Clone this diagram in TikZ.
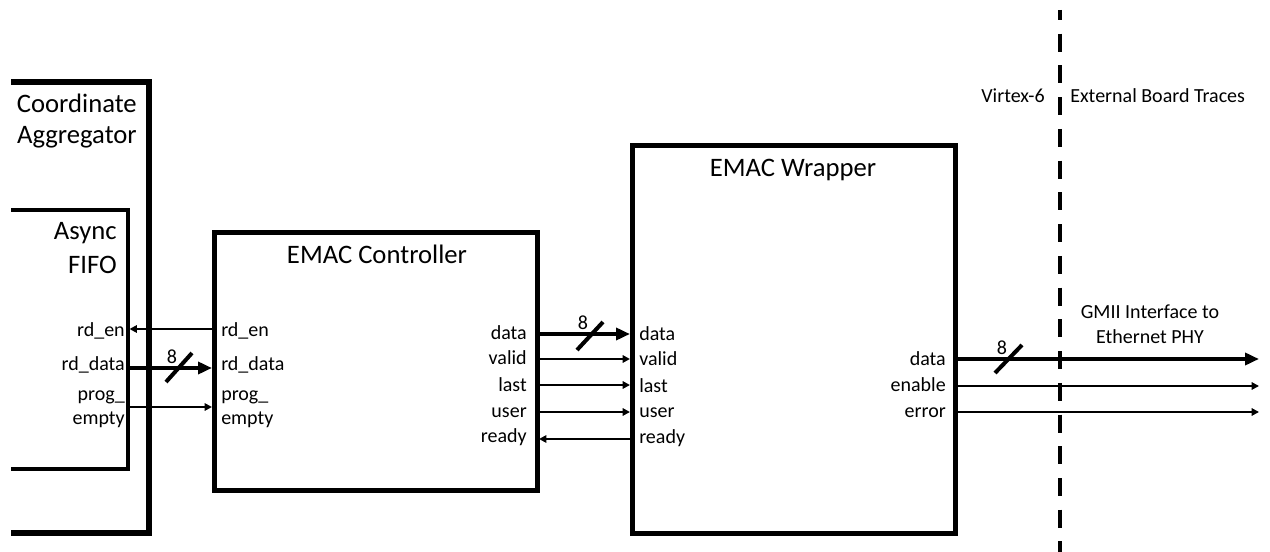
\documentclass[tikz,border=0pt]{standalone}
\usepackage{fontspec}
\setmainfont{Carlito}
\usetikzlibrary{arrows.meta}
\begin{document}
\begin{tikzpicture}[x=0.75pt,y=-0.75pt,
  big/.style={font=\fontsize{20}{24}\selectfont, inner sep=0pt},
  lbl/.style={font=\fontsize{15}{18}\selectfont, inner sep=0pt},
  outerblk/.style={line width=4pt},
  fifoblk/.style={line width=3pt},
  blk/.style={line width=3.75pt},
  sig/.style={line width=1.7pt,-{Triangle[length=5.5pt,width=5.5pt]}},
  bus/.style={line width=3pt,-{Triangle[length=10.5pt,width=9pt]}},
  slashmark/.style={line width=3pt},
  border/.style={line width=3.5pt, dash pattern=on 13.5pt off 10.3pt, dash phase=6pt},
]
\useasboundingbox (0,0) rectangle (1270,552);

% ---- blocks ----
\draw[outerblk] (11,82) -- (149,82) -- (149,533) -- (11,533);
\draw[fifoblk] (11,210) -- (128,210) -- (128,469) -- (11,469);
\draw[blk] (214,233) rectangle (537,490);
\draw[blk] (632,146) rectangle (955,533);
\draw[border] (1060,10) -- (1060,552);

% ---- titles ----
\node[big, anchor=base east] (ca1) at (137,113) {Coordinate};
\node[big, anchor=base east] (ca2) at (137,144) {Aggregator};
\node[big, anchor=base east] (af1) at (117,240) {Async};
\node[big, anchor=base east] (af2) at (117,273) {FIFO};
\node[big, anchor=base] (ctl) at (377,263) {EMAC Controller};
\node[big, anchor=base] (wrp) at (793,177) {EMAC Wrapper};
\node[lbl, anchor=base east] (vtx) at (1045,103) {Virtex-6};
\node[lbl, anchor=base west] (ext) at (1070,103) {External Board Traces};
\node[lbl, anchor=base] (gm1) at (1150,318) {GMII Interface to};
\node[lbl, anchor=base] (gm2) at (1150,343) {Ethernet PHY};

% ---- port coordinates ----
\coordinate (f-en) at (129.5,329);
\coordinate (f-dt) at (129.5,368);
\coordinate (f-pe) at (129.5,407);
\coordinate (c-en) at (212,329);
\coordinate (c-dt) at (212,368);
\coordinate (c-pe) at (212,407);
\coordinate (co-dt) at (539,334);
\coordinate (co-vl) at (539,359);
\coordinate (co-ls) at (539,385);
\coordinate (co-us) at (539,412);
\coordinate (co-rd) at (539,439);
\coordinate (wi-dt) at (630,334);
\coordinate (wi-vl) at (630,359);
\coordinate (wi-ls) at (630,385);
\coordinate (wi-us) at (630,412);
\coordinate (wi-rd) at (630,439);
\coordinate (wo-dt) at (957,359);
\coordinate (wo-en) at (957,386);
\coordinate (wo-er) at (957,412);
\coordinate (x-dt) at (1259,359);
\coordinate (x-en) at (1259,386);
\coordinate (x-er) at (1259,412);

% ---- port labels ----
\node[lbl, anchor=base east] (lf1) at (125,336) {rd\_en};
\node[lbl, anchor=base east] (lf2) at (125,370) {rd\_data};
\node[lbl, anchor=base east] (lf3) at (125,400) {prog\_};
\node[lbl, anchor=base east] (lf4) at (125,424) {empty};
\node[lbl, anchor=base west] (lc1) at (221,336) {rd\_en};
\node[lbl, anchor=base west] (lc2) at (221,370) {rd\_data};
\node[lbl, anchor=base west] (lc3) at (221,400) {prog\_};
\node[lbl, anchor=base west] (lc4) at (221,424) {empty};

\node[lbl, anchor=base east] (rc1) at (527,339) {data};
\node[lbl, anchor=base east] (rc2) at (527,364) {valid};
\node[lbl, anchor=base east] (rc3) at (527,391) {last};
\node[lbl, anchor=base east] (rc4) at (527,417) {user};
\node[lbl, anchor=base east] (rc5) at (527,442) {ready};
\node[lbl, anchor=base west] (lw1) at (639,340) {data};
\node[lbl, anchor=base west] (lw2) at (639,365) {valid};
\node[lbl, anchor=base west] (lw3) at (639,392) {last};
\node[lbl, anchor=base west] (lw4) at (639,417) {user};
\node[lbl, anchor=base west] (lw5) at (639,443) {ready};

\node[lbl, anchor=base east] (rw1) at (946,365) {data};
\node[lbl, anchor=base east] (rw2) at (946,391) {enable};
\node[lbl, anchor=base east] (rw3) at (946,417) {error};

% ---- connectors ----
\draw[sig] (c-en) -- (f-en);
\draw[bus] (f-dt) -- (c-dt);
\draw[sig] (f-pe) -- (c-pe);

\draw[bus] (co-dt) -- (wi-dt);
\draw[sig] (co-vl) -- (wi-vl);
\draw[sig] (co-ls) -- (wi-ls);
\draw[sig] (co-us) -- (wi-us);
\draw[sig] (wi-rd) -- (co-rd);

\draw[bus] (wo-dt) -- (x-dt);
\draw[sig] (wo-en) -- (x-en);
\draw[sig] (wo-er) -- (x-er);

% ---- bus width marks ----
\draw[slashmark] (166,382) -- (192,353);
\node[lbl, anchor=base] (w1) at (172,363) {8};
\draw[slashmark] (577,350) -- (603,322);
\node[lbl, anchor=base] (w2) at (583,329) {8};
\draw[slashmark] (995,373) -- (1022,345);
\node[lbl, anchor=base] (w3) at (1002,354) {8};
\end{tikzpicture}
\end{document}
